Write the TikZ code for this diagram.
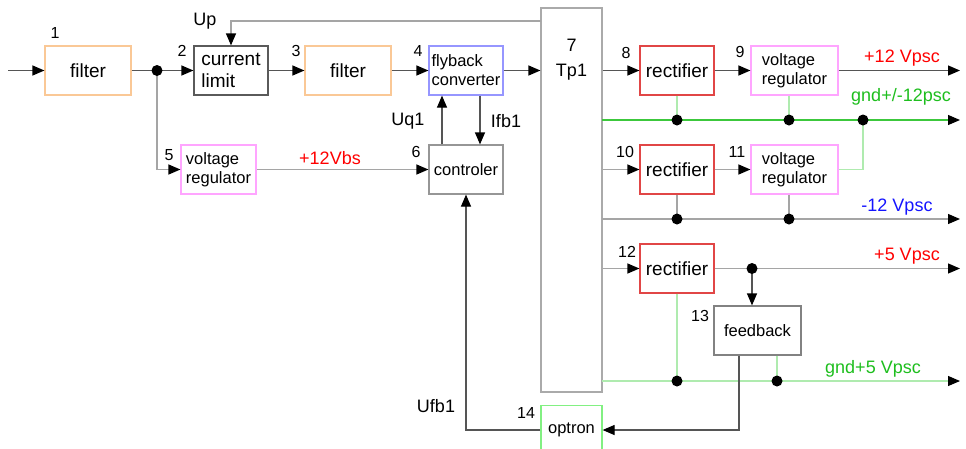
\documentclass[tikz,border=0pt]{standalone}
\usepackage{fontspec}
\setmainfont{Liberation Sans}
\usepackage{xcolor}
\usetikzlibrary{arrows.meta,positioning,calc}

\definecolor{filterc}{RGB}{250,200,150}
\definecolor{limitc}{RGB}{90,90,90}
\definecolor{flyc}{RGB}{150,150,255}
\definecolor{ctrlc}{RGB}{150,150,150}
\definecolor{regc}{RGB}{255,165,255}
\definecolor{rectc}{RGB}{225,70,70}
\definecolor{tpc}{RGB}{170,170,170}
\definecolor{fbc}{RGB}{130,130,130}
\definecolor{optc}{RGB}{130,240,130}
\definecolor{wirec}{RGB}{85,85,85}
\definecolor{lwirec}{RGB}{165,165,165}
\definecolor{gndc}{RGB}{60,200,60}
\definecolor{gndl}{RGB}{175,235,175}
\definecolor{vred}{RGB}{255,0,0}
\definecolor{vblue}{RGB}{20,20,255}
\definecolor{vgreen}{RGB}{30,190,30}

\begin{document}
\begin{tikzpicture}[x=1pt, y=-1pt, >={Triangle[length=12pt,width=10pt,color=black]},
  blk/.style={draw, fill=white, line width=1.2pt, minimum height=49pt, inner sep=2pt,
    align=left, font=\fontsize{16.5}{19}\selectfont},
  big/.style={font=\fontsize{19}{22}\selectfont},
  num/.style={font=\fontsize{16}{18}\selectfont},
  lbl/.style={font=\fontsize{18}{20}\selectfont},
  wire/.style={draw=wirec, line width=1.2pt},
  lwire/.style={draw=lwirec, line width=1.2pt},
  gwire/.style={draw=gndl, line width=1.2pt}]
\useasboundingbox (0,0) rectangle (966,448);

% Primary side
\coordinate (in) at (8,70.5);
\node[blk, big, draw=filterc, minimum width=86pt] (filt1) at (88,70.5) {filter};
\node[blk, big, draw=limitc, minimum width=74pt] (limit) at (231,70.5) {current\\limit};
\node[blk, big, draw=filterc, minimum width=86pt] (filt2) at (348,70.5) {filter};
\node[blk, draw=flyc, minimum width=74pt] (fly) at (466,70.5) {flyback\\converter};
\node[blk, draw=ctrlc, minimum width=74pt] (ctrl) at (466,169.5) {controler};
\node[blk, draw=regc, minimum width=75pt] (reg5) at (218.5,169.5) {voltage\\regulator};

% Transformer
\node[blk, draw=tpc, minimum width=61pt, minimum height=384pt] (tp1) at (571.5,200) {};
\node[lbl] (tpnum) at (571.5,45) {7};
\node[lbl] (tpname) at (571.5,72) {Tp1};

% Secondary side
\node[blk, big, draw=rectc, minimum width=74pt] (rect8) at (677,70.5) {rectifier};
\node[blk, draw=regc, minimum width=87pt] (reg9) at (794.5,70.5) {voltage\\regulator};
\node[blk, big, draw=rectc, minimum width=74pt] (rect10) at (677,169.5) {rectifier};
\node[blk, draw=regc, minimum width=87pt] (reg11) at (794.5,169.5) {voltage\\regulator};
\node[blk, big, draw=rectc, minimum width=74pt] (rect12) at (677,268.5) {rectifier};
\node[blk, draw=fbc, minimum width=87pt] (fb) at (757.5,330.5) {feedback};
\node[blk, draw=optc, minimum width=61pt] (opt) at (571.5,430) {optron};

% Block numbers
\node[num] (n1) at (55,33) {1};
\node[num] (n2) at (182,51) {2};
\node[num] (n3) at (296,51) {3};
\node[num] (n4) at (418,51) {4};
\node[num] (n5) at (169,155) {5};
\node[num] (n6) at (416,152) {6};
\node[num] (n8) at (626,53) {8};
\node[num] (n9) at (740,52) {9};
\node[num] (n10) at (625,152) {10};
\node[num] (n11) at (737,152) {11};
\node[num] (n12) at (627,252) {12};
\node[num] (n13) at (700,316) {13};
\node[num] (n14) at (526,413) {14};

% Junctions
\coordinate (j1) at (157,70.5);
\coordinate (d8) at (677,120);
\coordinate (d9) at (789,120);
\coordinate (d11) at (863,120);
\coordinate (d10) at (677,219);
\coordinate (d11b) at (789,219);
\coordinate (d12) at (752,268.5);
\coordinate (d12b) at (677,381);
\coordinate (dfb) at (777,381);

% Primary wiring
\draw[wire, ->] (in) -- (filt1);
\draw[wire] (filt1) -- (j1);
\draw[wire, ->] (j1) -- (limit);
\draw[lwire, ->] (j1) |- (reg5);
\draw[wire, ->] (limit) -- (filt2);
\draw[wire, ->] (filt2) -- (fly);
\draw[wire, ->] (fly) -- (fly -| tp1.west);
\coordinate (upsrc) at (541,21);
\draw[lwire, ->] (upsrc) -| (limit);
\draw[wire, ->] ([xshift=-24pt]ctrl.north) -- ([xshift=-24pt]fly.south);
\draw[wire, ->] ([xshift=14pt]fly.south) -- ([xshift=14pt]ctrl.north);
\draw[lwire, ->] (reg5) -- (ctrl);
\draw[wire, ->] (opt) -| (ctrl);

% +/-12 V outputs
\coordinate (o12) at (960,70.5);
\coordinate (g12s) at (602,120);
\coordinate (g12e) at (960,120);
\coordinate (m12s) at (602,219);
\coordinate (m12e) at (960,219);
\draw[wire, ->] (rect8 -| tp1.east) -- (rect8);
\draw[wire, ->] (rect8) -- (reg9);
\draw[wire, ->] (reg9) -- (o12);
\draw[draw=gndc, line width=1.2pt, ->] (g12s) -- (g12e);
\draw[gwire] (rect8) -- (d8);
\draw[gwire] (reg9.south -| d9) -- (d9);
\draw[gwire] (reg11) -| (d11);
\draw[lwire, ->] (rect10 -| tp1.east) -- (rect10);
\draw[lwire, ->] (rect10) -- (reg11);
\draw[lwire, ->] (m12s) -- (m12e);
\draw[lwire] (rect10) -- (d10);
\draw[lwire] (reg11.south -| d11b) -- (d11b);

% +5 V output and feedback
\coordinate (o5) at (960,268.5);
\coordinate (g5s) at (602,381);
\coordinate (g5e) at (960,381);
\draw[lwire, ->] (rect12 -| tp1.east) -- (rect12);
\draw[lwire, ->] (rect12) -- (o5);
\draw[wire, ->] (d12) -- (d12 |- fb.north);
\draw[gwire, ->] (g5s) -- (g5e);
\draw[gwire] (rect12) -- (d12b);
\draw[gwire] (fb.south -| dfb) -- (dfb);
\draw[wire, ->] ([xshift=-18.5pt]fb.south) |- (opt);

% Junction dots on top
\foreach \j in {j1,d8,d9,d11,d10,d11b,d12,d12b,dfb}
  \fill (\j) circle (5.5pt);

% Signal names
\node[lbl] (lup) at (205,21) {Up};
\node[lbl] (luq) at (408,121) {Uq1};
\node[lbl] (lifb) at (506,121) {Ifb1};
\node[lbl] (lufb) at (436,406) {Ufb1};
\node[lbl, text=vred] (lbs) at (330,158) {+12Vbs};
\node[lbl, text=vred] (lp12) at (902,58) {+12 Vpsc};
\node[lbl, text=vgreen] (lg12) at (901,97) {gnd+/-12psc};
\node[lbl, text=vblue] (lm12) at (897,207) {-12 Vpsc};
\node[lbl, text=vred] (lp5) at (907,256) {+5 Vpsc};
\node[lbl, text=vgreen] (lg5) at (873,369) {gnd+5 Vpsc};
\end{tikzpicture}
\end{document}
